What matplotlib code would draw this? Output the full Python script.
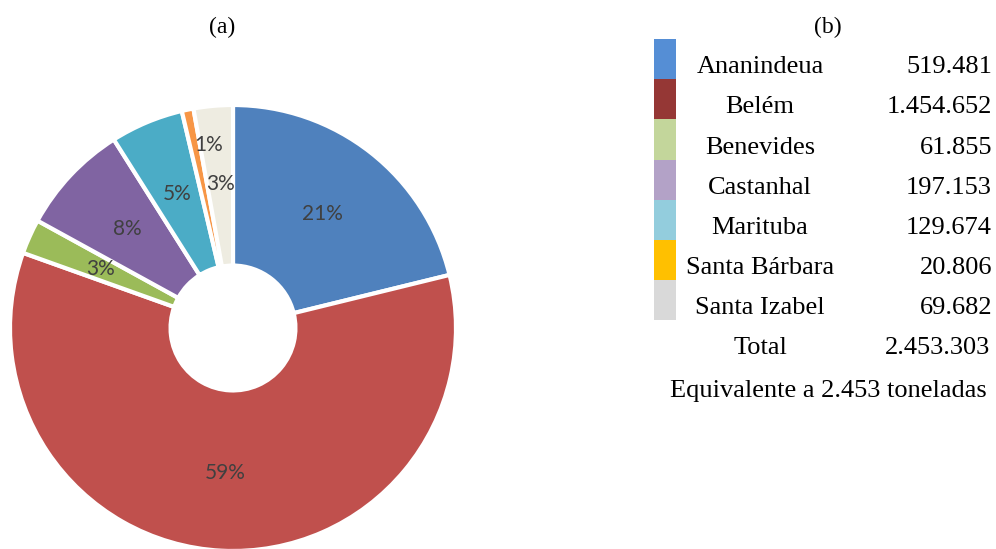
import matplotlib.pyplot as plt
from matplotlib.patches import Rectangle

# Data
cities = ['Ananindeua', 'Belém', 'Benevides', 'Castanhal', 'Marituba',
          'Santa Bárbara', 'Santa Izabel']
values = [519481, 1454652, 61855, 197153, 129674, 20806, 69682]
value_labels = ['519.481', '1.454.652', '61.855', '197.153', '129.674',
                '20.806', '69.682']
total_label = '2.453.303'
note = 'Equivalente a 2.453 toneladas'

pie_colors = ['#4F81BD', '#C0504D', '#9BBB59', '#8064A2', '#4BACC6',
              '#F79646', '#EEECE1']
swatch_colors = ['#558ED5', '#953735', '#C3D69B', '#B3A2C7', '#93CDDD',
                 '#FFC000', '#D9D9D9']

W, H = 996, 549
fig = plt.figure(figsize=(W / 100, H / 100), dpi=100)

# (a) donut
cx, cy, r = 233, 328, 223
ax = fig.add_axes([(cx - r) / W, (H - cy - r) / H, 2 * r / W, 2 * r / H])
wedges, texts, autotexts = ax.pie(
    values, colors=pie_colors, startangle=90, counterclock=False,
    radius=1.0, autopct='%.0f%%', pctdistance=0.65,
    wedgeprops=dict(width=0.72, edgecolor='white', linewidth=3),
    textprops=dict(family='Lato', fontsize=15, color='#404040'))
# small Santa Bárbara label sits further out, nudged toward the top
x, y = autotexts[5].get_position()
autotexts[5].set_position((x * 0.84 / 0.65 + 0.06, y * 0.84 / 0.65))
ax.set_xlim(-1, 1)
ax.set_ylim(-1, 1)
ax.set_aspect('equal')
ax.axis('off')

serif = 'Liberation Serif'
fig.text(222 / W, 1 - 27 / H, '(a)', family=serif, fontsize=17,
         ha='center', va='center')
fig.text(828 / W, 1 - 27 / H, '(b)', family=serif, fontsize=17,
         ha='center', va='center')

# (b) table
top, row_h = 39, 40.2
for i, (name, val, col) in enumerate(zip(cities, value_labels, swatch_colors)):
    y0 = top + i * row_h
    fig.patches.append(Rectangle((654 / W, 1 - (y0 + row_h) / H), 22 / W, row_h / H,
                                 transform=fig.transFigure, facecolor=col,
                                 edgecolor='none'))
    base = 1 - (y0 + row_h - 6) / H
    fig.text(760 / W, base, name, family=serif, fontsize=19, ha='center',
             va='baseline')
    fig.text(992 / W, base, val, family=serif, fontsize=19, ha='right',
             va='baseline')

fig.text(760 / W, 1 - 354 / H, 'Total', family=serif, fontsize=19,
         ha='center', va='baseline')
fig.text(990 / W, 1 - 354 / H, total_label, family=serif, fontsize=19,
         ha='right', va='baseline')
fig.text(828 / W, 1 - 397 / H, note, family=serif, fontsize=19,
         ha='center', va='baseline')

plt.savefig('out.png', dpi=100)
